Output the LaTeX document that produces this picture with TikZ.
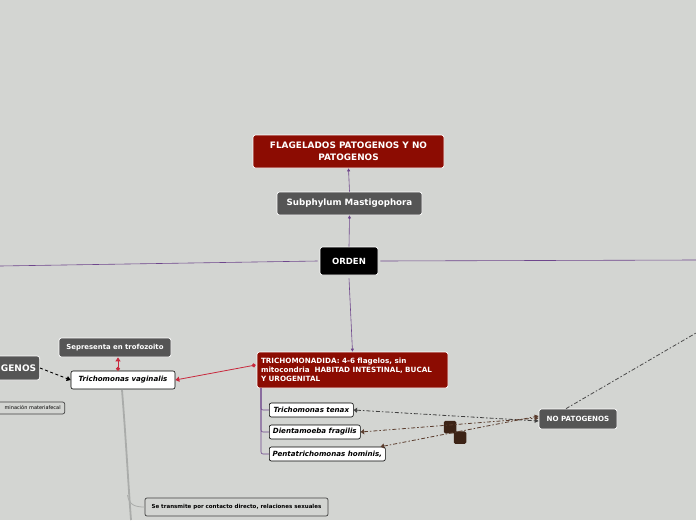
\documentclass[tikz,border=0pt]{standalone}
\usepackage{fontspec}
\setmainfont{DejaVu Sans}
\usetikzlibrary{arrows.meta}
\definecolor{bg}{RGB}{211,213,210}
\definecolor{dred}{RGB}{140,12,2}
\definecolor{dgray}{RGB}{85,85,85}
\definecolor{purp}{RGB}{110,70,140}
\definecolor{rline}{RGB}{200,40,60}
\definecolor{brn}{RGB}{90,60,45}
\definecolor{sq}{RGB}{60,35,22}
\definecolor{gline}{RGB}{170,172,170}
\tikzset{
  darkbox/.style={draw=white, line width=0.7pt, rounded corners=2.5pt, text=white, font=\bfseries, inner sep=0pt, align=center},
  redbox/.style={darkbox, fill=dred},
  graybox/.style={darkbox, fill=dgray},
  blackbox/.style={darkbox, fill=black},
  specbox/.style={draw=black, line width=0.6pt, fill=white, rounded corners=2pt, font=\bfseries\itshape\fontsize{7.1}{8}\selectfont, inner sep=0pt, anchor=west},
  lightbox/.style={draw=black!75, line width=0.7pt, fill=bg, rounded corners=2pt, font=\bfseries\fontsize{5.5}{6}\selectfont, inner sep=0pt},
  pline/.style={draw=purp, line width=0.6pt},
  parrow/.style={pline, -{Triangle[width=3pt,length=3pt]}},
  ddash/.style={line width=0.8pt, dash pattern=on 4pt off 2pt on 1.5pt off 2pt},
  sqbox/.style={fill=sq, rounded corners=1.5pt, minimum size=12.5pt, inner sep=0pt}
}
\begin{document}
\begin{tikzpicture}[x=1pt,y=-1pt]
\useasboundingbox (0,0) rectangle (696,520);
\fill[bg] (0,0) rectangle (696,520);

% nodes
\node[redbox, minimum width=191pt, minimum height=33pt, font=\bfseries\fontsize{8.9}{11.5}\selectfont] (flag) at (348.5,151.5) {FLAGELADOS PATOGENOS Y NO\\PATOGENOS};
\node[graybox, minimum width=145pt, minimum height=23pt, font=\bfseries\fontsize{8.7}{10}\selectfont] (sub) at (349.5,203.5) {Subphylum Mastigophora};
\node[blackbox, minimum width=58pt, minimum height=28pt, font=\bfseries\fontsize{8.5}{10}\selectfont] (orden) at (349,261) {ORDEN};
\node[redbox, minimum width=191pt, minimum height=36pt, align=left, text width=183pt, inner xsep=4pt, font=\bfseries\fontsize{7.2}{9.2}\selectfont] (tricho) at (352.5,370) {TRICHOMONADIDA: 4-6 flagelos, sin\\mitocondria\ \ HABITAD INTESTINAL, BUCAL\\Y UROGENITAL};

\node[specbox, minimum width=84pt, minimum height=14pt] (tenax) at (269,410) {Trichomonas tenax};
\node[specbox, minimum width=91pt, minimum height=14pt] (dient) at (269,432) {Dientamoeba fragilis};
\node[specbox, minimum width=116pt, minimum height=14pt] (penta) at (269,454) {Pentatrichomonas hominis,};

\node[graybox, minimum width=78pt, minimum height=20pt, font=\bfseries\fontsize{7.1}{8}\selectfont] (nopat) at (578,419) {NO PATOGENOS};

\node[specbox, anchor=center, minimum width=104pt, minimum height=18pt] (vag) at (123,380) {Trichomonas vaginalis};
\node[graybox, minimum width=112pt, minimum height=19pt, font=\bfseries\fontsize{6.9}{8}\selectfont] (sep) at (115,347.5) {Sepresenta en trofozoito};
\node[graybox, anchor=east, minimum height=24pt, text width=60pt, align=right, inner xsep=3.5pt, font=\bfseries\fontsize{9}{12}\selectfont] (pat) at (40,368) {GENOS};
\node[lightbox, anchor=east, minimum height=12pt, text width=70pt, align=right, inner xsep=4pt, font=\fontsize{5}{5}\selectfont] (cont) at (65,408) {minación materiafecal};
\node[lightbox, minimum width=183pt, minimum height=18pt] (trans) at (236.5,507) {Se transmite por contacto directo, relaciones sexuales};

\node[sqbox] (sq1) at (450,427) {};
\node[sqbox] (sq2) at (460,437.5) {};

% connectors
\draw[parrow] (orden.north) -- (sub.south);
\draw[parrow] (sub.north) -- (flag.south);
\coordinate (leftend) at (0,266);
\coordinate (rightend) at (696,260);
\draw[pline] ([xshift=-2pt]orden.west) -- (leftend);
\draw[pline] ([xshift=2pt]orden.east) -- (rightend);
\draw[parrow] ([yshift=-3pt]orden.south) -- (tricho.north);

\draw[pline, rounded corners=2pt] (261,388) |- (tenax.west);
\draw[pline, rounded corners=2pt] (261,388) |- (dient.west);
\draw[pline, rounded corners=2pt] (261,388) |- (penta.west);

\draw[draw=rline, line width=0.8pt, {Circle[length=4pt]}-{Triangle[width=5pt,length=4pt]}] ([xshift=-1pt,yshift=5pt]tricho.west) -- (vag.east);
\draw[draw=rline, line width=0.8pt, {Circle[length=4pt]}-{Triangle[width=5pt,length=4pt]}] ([xshift=-5pt]vag.north) -- ([xshift=3pt]sep.south);

\draw[line width=0.9pt, dash pattern=on 3pt off 2.5pt, -{Triangle[width=5pt,length=4pt]}] (pat.east) -- (vag.west);

\coordinate (gbot) at (131,520);
\draw[draw=gline, line width=1.8pt] (122,390) .. controls (126,440) and (128,480) .. (gbot);
\draw[draw=gline, line width=0.8pt] (127.5,495) .. controls (129,505) and (135,507) .. (trans.west);

\draw[ddash, draw=black!75, {Triangle[width=5pt,length=3.5pt]}-{Triangle[width=4pt,length=4pt]}] (tenax.east) -- ([yshift=-2pt]nopat.west);
\draw[ddash, draw=brn, {Triangle[width=5pt,length=3.5pt]}-{Triangle[width=4pt,length=4pt]}] (dient.east) -- ([yshift=1pt]nopat.west);
\draw[ddash, draw=brn, {Triangle[width=5pt,length=3.5pt]}-{Triangle[width=4pt,length=4pt]}] ([xshift=-5pt]penta.north east) -- ([yshift=3pt]nopat.west);

\coordinate (upend) at (696,333);
\draw[draw=black!70, line width=0.8pt, dash pattern=on 4pt off 2pt on 1.5pt off 2pt] ([xshift=-12pt]nopat.north) -- (upend);
\end{tikzpicture}
\end{document}
